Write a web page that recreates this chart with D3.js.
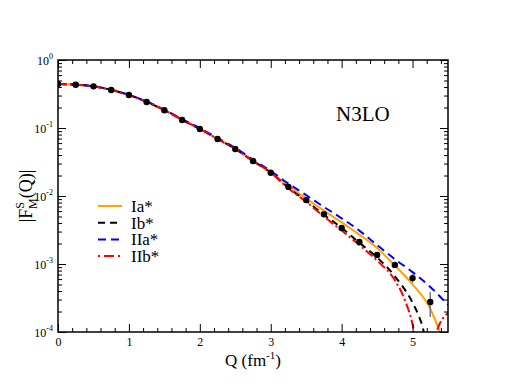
<!DOCTYPE html>
<html>
<head>
<meta charset="utf-8">
<script src="https://cdn.jsdelivr.net/npm/d3@7"></script>
<style>
body { margin: 0; background: #fff; }
text { font-family: "Liberation Serif", "Times New Roman", serif; fill: #000; }
</style>
</head>
<body>
<div id="chart"></div>
<script>
// shared low-Q part of the curves (all four models agree there)
const qCommon = [0, 0.25, 0.5, 0.75, 1, 1.25, 1.5, 1.75, 2, 2.25, 2.5, 2.75, 3];
const fCommon = [0.443, 0.434, 0.41, 0.363, 0.306, 0.242, 0.183, 0.132, 0.097, 0.069, 0.0492, 0.0328, 0.0221];
const fCommonIIa = [0.443, 0.434, 0.411, 0.365, 0.308, 0.245, 0.186, 0.135, 0.0995, 0.0712, 0.051, 0.0342, 0.0232];

// high-Q tails
const qIa = [3.25, 3.5, 3.75, 4, 4.25, 4.5, 4.75, 5, 5.25, 5.4, 5.5];
const fIa = [0.0140, 0.0092, 0.0061, 0.0041, 0.0027, 0.00172, 0.00095, 0.00050, 0.00022, 0.00009, 0.00004];
const qIb = [3.25, 3.5, 3.75, 4, 4.25, 4.5, 4.75, 5, 5.1, 5.15, 5.2];
const fIb = [0.0132, 0.0085, 0.0053, 0.0034, 0.00205, 0.00125, 0.00066, 0.00027, 0.00016, 0.00011, 0.00005];
const qIIa = [3.25, 3.5, 3.75, 4, 4.25, 4.5, 4.75, 5, 5.25, 5.5];
const fIIa = [0.0152, 0.0103, 0.0069, 0.0047, 0.0031, 0.0019, 0.00118, 0.00076, 0.00046, 0.00025];
const qIIb = [3.25, 3.5, 3.75, 4, 4.25, 4.5, 4.75, 4.9, 5, 5.05, 5.15, 5.25, 5.34, 5.5];
const fIIb = [0.0129, 0.0082, 0.0050, 0.0031, 0.0019, 0.00112, 0.00058, 0.00028, 0.00013, 0.00007, 0.00001, 0.00004, 0.0001, 0.00019];

// experimental points
const qData = [0, 0.25, 0.5, 0.75, 1, 1.25, 1.5, 1.75, 2, 2.25, 2.5, 2.75, 3, 3.25, 3.5, 3.75, 4, 4.25, 4.5, 4.75, 5, 5.25];
const fData = [0.443, 0.433, 0.41, 0.362, 0.306, 0.241, 0.182, 0.131, 0.0967, 0.0689, 0.0491, 0.0327, 0.022, 0.0136, 0.0087, 0.0054, 0.00339, 0.00211, 0.00136, 0.00097, 0.00062, 0.000276];
const eData = [0, 0, 0, 0, 0, 0, 0, 0, 0, 0, 0, 0, 0, 0, 0, 0, 0.00005, 0.00004, 0.00005, 0.00008, 0.00009, 0.00011];

const xMajor = [0, 1, 2, 3, 4, 5];
const yMajor = [1, 0.1, 0.01, 0.001, 0.0001];
const yExp = ["0", "-1", "-2", "-3", "-4"];
const legendNames = ["Ia*", "Ib*", "IIa*", "IIb*"];

const W = 505, H = 391;
const margin = { top: 60, right: 57, bottom: 59, left: 58 };
const x = d3.scaleLinear().domain([0, 5.5]).range([margin.left, W - margin.right]);
const y = d3.scaleLog().domain([1e-4, 1]).range([H - margin.bottom, margin.top]);

const svg = d3.select("#chart").append("svg")
    .attr("width", W)
    .attr("height", H);

svg.append("clipPath").attr("id", "clip")
    .append("rect")
    .attr("x", x(0)).attr("y", y(1))
    .attr("width", x(5.5) - x(0)).attr("height", y(1e-4) - y(1));

const zip = (qs, fs) => qs.map((q, i) => ({ q: q, f: fs[i] }));
const series = [
    { name: "Ia*", color: "#ffa500", dash: null, pts: zip(qCommon, fCommon).concat(zip(qIa, fIa)) },
    { name: "Ib*", color: "#000000", dash: "7,5", pts: zip(qCommon, fCommon).concat(zip(qIb, fIb)) },
    { name: "IIa*", color: "#0000ff", dash: "8,5", pts: zip(qCommon, fCommonIIa).concat(zip(qIIa, fIIa)) },
    { name: "IIb*", color: "#ff0000", dash: "9,3,2,3", pts: zip(qCommon, fCommon).concat(zip(qIIb, fIIb)) }
];

const line = d3.line()
    .x(d => x(d.q))
    .y(d => y(d.f))
    .curve(d3.curveMonotoneX);

const plot = svg.append("g").attr("clip-path", "url(#clip)");
plot.selectAll("path.curve")
    .data(series)
    .join("path")
    .attr("class", "curve")
    .attr("fill", "none")
    .attr("stroke", d => d.color)
    .attr("stroke-width", 2)
    .attr("stroke-dasharray", d => d.dash)
    .attr("d", d => line(d.pts));

// data points with error bars
const pts = zip(qData, fData).map((d, i) => ({ q: d.q, f: d.f, e: eData[i] }));
plot.selectAll("line.err")
    .data(pts.filter(d => d.e > 0))
    .join("line")
    .attr("class", "err")
    .attr("x1", d => x(d.q)).attr("x2", d => x(d.q))
    .attr("y1", d => y(d.f - d.e)).attr("y2", d => y(d.f + d.e))
    .attr("stroke", "#777")
    .attr("stroke-width", 1.5);
plot.selectAll("circle.pt")
    .data(pts)
    .join("circle")
    .attr("class", "pt")
    .attr("cx", d => x(d.q))
    .attr("cy", d => y(d.f))
    .attr("r", 3.2)
    .attr("fill", "#000");

// axes
const xMinor = d3.range(0, 5.5001, 0.2).filter(v => Math.abs(v - Math.round(v)) > 1e-6);
const yMinor = [];
[1e-4, 1e-3, 1e-2, 1e-1].forEach(d => { for (let k = 2; k <= 9; k++) yMinor.push(k * d); });

const axBottom = svg.append("g").attr("transform", `translate(0,${y(1e-4)})`);
axBottom.append("g").call(d3.axisBottom(x).tickValues(xMajor).tickSizeInner(-8).tickSizeOuter(0).tickPadding(5).tickFormat(d3.format("d")));
axBottom.append("g").call(d3.axisBottom(x).tickValues(xMinor).tickSizeInner(-4).tickSizeOuter(0).tickFormat(""));
const axTop = svg.append("g").attr("transform", `translate(0,${y(1)})`);
axTop.append("g").call(d3.axisTop(x).tickValues(xMajor).tickSizeInner(-8).tickSizeOuter(0).tickFormat(""));
axTop.append("g").call(d3.axisTop(x).tickValues(xMinor).tickSizeInner(-4).tickSizeOuter(0).tickFormat(""));
const axLeft = svg.append("g").attr("transform", `translate(${x(0)},0)`);
axLeft.append("g").attr("class", "ymaj").call(d3.axisLeft(y).tickValues(yMajor).tickSizeInner(-8).tickSizeOuter(0).tickFormat(""));
axLeft.append("g").call(d3.axisLeft(y).tickValues(yMinor).tickSizeInner(-4).tickSizeOuter(0).tickFormat(""));
const axRight = svg.append("g").attr("transform", `translate(${x(5.5)},0)`);
axRight.append("g").call(d3.axisRight(y).tickValues(yMajor).tickSizeInner(-8).tickSizeOuter(0).tickFormat(""));
axRight.append("g").call(d3.axisRight(y).tickValues(yMinor).tickSizeInner(-4).tickSizeOuter(0).tickFormat(""));

svg.selectAll(".domain").remove();
svg.selectAll(".tick line").attr("stroke", "#000").attr("stroke-width", 1);
svg.selectAll("g").attr("font-family", null);
svg.selectAll(".tick text")
    .style("font-family", "'Liberation Serif','Times New Roman',serif")
    .style("font-size", "12px")
    .attr("fill", "#000");

// y tick labels: 10^n
axLeft.select(".ymaj").selectAll(".tick").each(function (d, i) {
    const t = d3.select(this).append("text")
        .attr("x", -5).attr("y", 4)
        .attr("text-anchor", "end")
        .style("font-size", "12px");
    t.append("tspan").text("10");
    t.append("tspan").attr("dy", -6).style("font-size", "8px").text(yExp[i]);
});

svg.append("rect")
    .attr("x", x(0)).attr("y", y(1))
    .attr("width", x(5.5) - x(0)).attr("height", y(1e-4) - y(1))
    .attr("fill", "none")
    .attr("stroke", "#000")
    .attr("stroke-width", 1.5);

// axis titles
const xt = svg.append("text")
    .attr("x", (x(0) + x(5.5)) / 2).attr("y", 366)
    .attr("text-anchor", "middle")
    .style("font-size", "17px");
xt.append("tspan").text("Q (fm");
xt.append("tspan").attr("dy", -7).style("font-size", "11px").text("-1");
xt.append("tspan").attr("dy", 7).text(")");

const yt = svg.append("text")
    .attr("transform", `translate(32,${(y(1) + y(1e-4)) / 2}) rotate(-90)`)
    .attr("text-anchor", "middle")
    .style("font-size", "18px");
yt.append("tspan").text("|F");
yt.append("tspan").attr("dy", -8).style("font-size", "12px").text("S");
yt.append("tspan").attr("dx", -7).attr("dy", 13).style("font-size", "12px").text("M");
yt.append("tspan").attr("dy", -5).text("(Q)|");

svg.append("text")
    .attr("x", 336).attr("y", 121)
    .style("font-size", "21px")
    .text("N3LO");

// legend
const legend = svg.append("g");
const rows = legend.selectAll("g")
    .data(series)
    .join("g")
    .attr("transform", (d, i) => `translate(98,${206 + i * 16.7})`);
rows.append("line")
    .attr("x1", 0).attr("x2", 24)
    .attr("stroke", d => d.color)
    .attr("stroke-width", 2)
    .attr("stroke-dasharray", (d, i) => i === 3 ? "2,4,10,4,2" : d.dash);
rows.append("text")
    .attr("x", 33).attr("y", 6)
    .style("font-size", "17px")
    .text((d, i) => legendNames[i]);
</script>
</body>
</html>
